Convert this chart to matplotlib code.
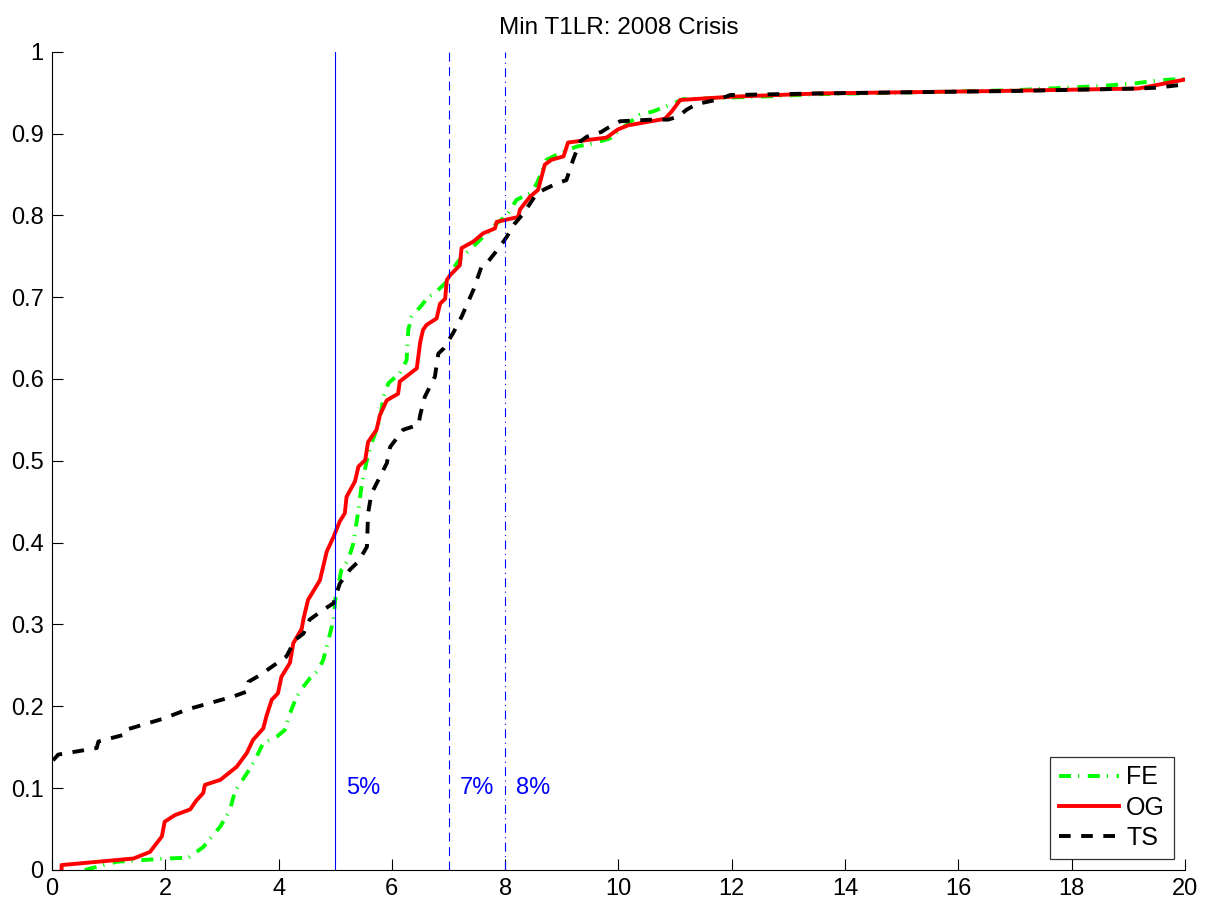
import matplotlib
matplotlib.use("Agg")
import matplotlib.pyplot as plt

# ---- data ----
fe_x = [0.58, 1.14, 2.02, 2.41, 2.67, 2.97, 3.14, 3.23, 3.44, 3.58, 3.73, 3.97, 4.11, 4.20, 4.32,
        4.44, 4.55, 4.70, 4.79, 4.88, 4.97, 5.00, 5.11, 5.23, 5.32, 5.41, 5.47, 5.56, 5.64, 5.79,
        5.85, 5.94, 6.14, 6.26, 6.29, 6.35, 6.50, 6.64, 6.79, 6.97, 7.08, 7.23, 7.38, 7.85, 8.03,
        8.20, 8.44, 8.56, 8.73, 8.97, 9.26, 9.56, 9.85, 10.03, 10.38, 10.61, 10.91, 11.14, 12.0,
        12.5, 13.5, 15.0, 17.0, 18.5, 19.09, 19.53, 20.0]
fe_y = [0.000, 0.010, 0.014, 0.015, 0.028, 0.053, 0.073, 0.096, 0.118, 0.134, 0.155, 0.163, 0.171,
        0.191, 0.212, 0.224, 0.234, 0.244, 0.257, 0.281, 0.306, 0.330, 0.367, 0.379, 0.399, 0.440,
        0.472, 0.501, 0.521, 0.550, 0.578, 0.595, 0.607, 0.623, 0.660, 0.676, 0.688, 0.700, 0.707,
        0.719, 0.735, 0.749, 0.758, 0.790, 0.800, 0.819, 0.827, 0.839, 0.868, 0.876, 0.884, 0.888,
        0.894, 0.905, 0.923, 0.927, 0.935, 0.942, 0.944, 0.945, 0.948, 0.950, 0.953, 0.958, 0.961,
        0.965, 0.967]

og_x = [0.17, 0.17, 1.44, 1.73, 1.94, 1.99, 2.17, 2.44, 2.55, 2.67, 2.70, 2.97, 3.26, 3.44, 3.55,
        3.73, 3.79, 3.88, 3.99, 4.05, 4.20, 4.26, 4.41, 4.44, 4.52, 4.73, 4.85, 4.97, 5.08, 5.17,
        5.20, 5.35, 5.41, 5.53, 5.58, 5.73, 5.79, 5.91, 6.11, 6.14, 6.44, 6.50, 6.55, 6.61, 6.79,
        6.85, 6.94, 6.97, 7.03, 7.20, 7.23, 7.44, 7.61, 7.82, 7.85, 8.23, 8.26, 8.44, 8.58, 8.70,
        8.82, 9.03, 9.11, 9.79, 9.99, 10.17, 10.82, 10.94, 11.09, 12.0, 13.56, 16.73, 19.18, 20.0]
og_y = [0.000, 0.006, 0.014, 0.022, 0.041, 0.059, 0.067, 0.074, 0.085, 0.094, 0.104, 0.110, 0.126,
        0.143, 0.159, 0.173, 0.189, 0.208, 0.216, 0.236, 0.253, 0.277, 0.295, 0.307, 0.330, 0.354,
        0.389, 0.407, 0.426, 0.436, 0.456, 0.475, 0.493, 0.501, 0.523, 0.538, 0.556, 0.574, 0.582,
        0.597, 0.613, 0.645, 0.660, 0.666, 0.674, 0.692, 0.698, 0.721, 0.727, 0.739, 0.760, 0.768,
        0.778, 0.784, 0.792, 0.798, 0.807, 0.823, 0.831, 0.862, 0.868, 0.872, 0.889, 0.895, 0.905,
        0.910, 0.918, 0.927, 0.941, 0.945, 0.949, 0.952, 0.955, 0.966]

ts_x = [0.02, 0.11, 0.79, 0.82, 1.26, 1.29, 1.97, 2.38, 3.20, 3.44, 3.47, 3.67, 4.14, 4.29, 4.44,
        4.55, 4.79, 4.97, 5.08, 5.26, 5.41, 5.56, 5.58, 5.64, 5.91, 5.97, 6.20, 6.47, 6.50, 6.58,
        6.76, 6.82, 6.91, 7.08, 7.23, 7.44, 7.58, 7.67, 7.91, 8.03, 8.17, 8.32, 8.56, 8.67, 8.91,
        9.08, 9.20, 9.32, 9.44, 9.70, 9.79, 10.03, 10.61, 10.88, 11.06, 11.20, 11.38, 11.79, 11.97,
        13.56, 17.0, 19.18, 19.5, 20.0]
ts_y = [0.134, 0.141, 0.149, 0.157, 0.165, 0.171, 0.185, 0.196, 0.212, 0.218, 0.230, 0.238, 0.261,
        0.281, 0.289, 0.306, 0.318, 0.326, 0.350, 0.367, 0.377, 0.395, 0.436, 0.460, 0.497, 0.517,
        0.538, 0.544, 0.556, 0.578, 0.603, 0.631, 0.637, 0.656, 0.676, 0.709, 0.737, 0.741, 0.762,
        0.774, 0.790, 0.802, 0.827, 0.831, 0.839, 0.843, 0.868, 0.890, 0.896, 0.902, 0.906, 0.915,
        0.917, 0.917, 0.921, 0.929, 0.936, 0.942, 0.947, 0.949, 0.952, 0.955, 0.956, 0.960]

thresholds = [5, 7, 8]
threshold_labels = ["5%", "7%", "8%"]
series_labels = ["FE", "OG", "TS"]

plt.rcParams['font.family'] = ['Liberation Sans', 'DejaVu Sans']

fig = plt.figure(figsize=(12.14, 9.10), dpi=100)
ax = fig.add_axes([0.0428, 0.044, 0.9333, 0.8992])

lw = 2.8
ax.plot(fe_x, fe_y, color='#00ff00', lw=lw, linestyle=(0, (3.1, 1.8, 0.3, 2.2)), label=series_labels[0])
ax.plot(og_x, og_y, color='#ff0000', lw=lw, linestyle='-', label=series_labels[1])
ax.plot(ts_x, ts_y, color='black', lw=lw, linestyle=(0, (3.0, 2.7)), label=series_labels[2])

vstyles = ['-', (0, (8, 5)), (0, (8, 4, 1, 4))]
for t, lab, st in zip(thresholds, threshold_labels, vstyles):
    ax.axvline(t, color='#0000ff', lw=0.8, linestyle=st)
    ax.text(t + 0.2, 0.1, lab, color='#0000ff', fontsize=17, va='center', ha='left')

ax.set_xlim(0, 20)
ax.set_ylim(0, 1)
ax.set_xticks(range(0, 21, 2))
ax.set_yticks([i / 10 for i in range(11)])
ax.set_yticklabels(['0', '0.1', '0.2', '0.3', '0.4', '0.5', '0.6', '0.7', '0.8', '0.9', '1'])
ax.tick_params(direction='in', length=8, width=0.8, labelsize=17, pad=6)
ax.spines['top'].set_visible(False)
ax.spines['right'].set_visible(False)
ax.set_title("Min T1LR: 2008 Crisis", fontsize=17.5, pad=13)

leg = ax.legend(loc='lower right', fontsize=18, frameon=True, fancybox=False,
                edgecolor='black', handlelength=2.4, handletextpad=0.3,
                borderaxespad=0.45, borderpad=0.35, labelspacing=0.25,
                bbox_to_anchor=(1.0, 0.0))
leg.get_frame().set_linewidth(0.9)

fig.savefig("out.png", dpi=100)
